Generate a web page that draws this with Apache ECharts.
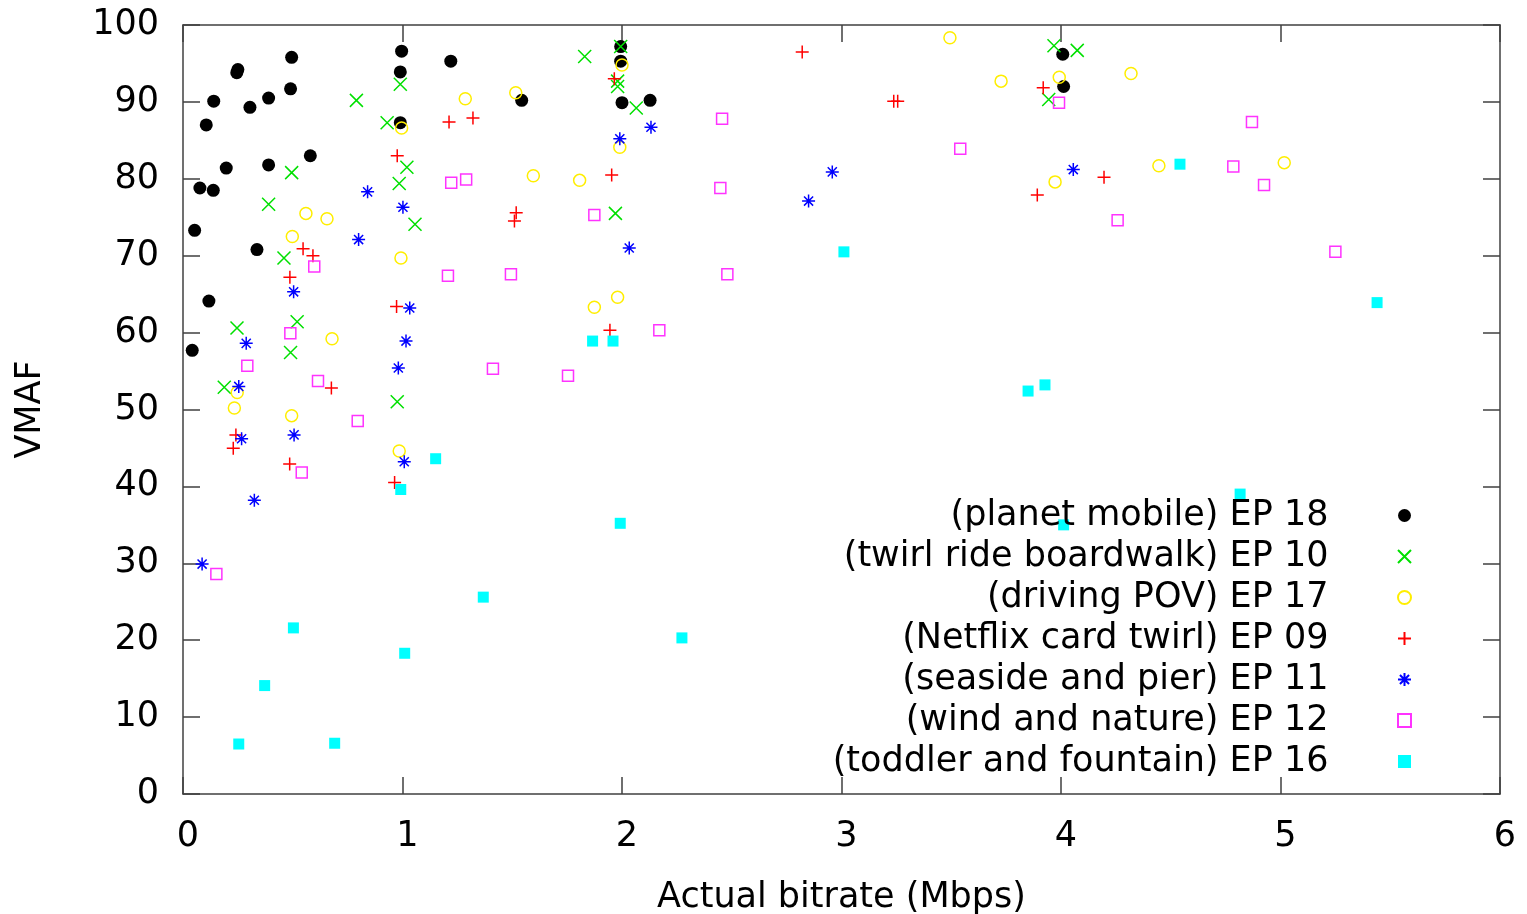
<!DOCTYPE html>
<html>
<head>
<meta charset="utf-8">
<script src="https://cdn.jsdelivr.net/npm/echarts@6/dist/echarts.min.js"></script>
<style>
html,body{margin:0;padding:0;background:#fff;}
#chart{width:1527px;height:914px;}
</style>
</head>
<body>
<div id="chart"></div>
<script>
// ---- data (x = Actual bitrate Mbps, y = VMAF) ----
const seriesNames = [
  "(planet mobile) EP 18",
  "(twirl ride boardwalk) EP 10",
  "(driving POV) EP 17",
  "(Netflix card twirl) EP 09",
  "(seaside and pier) EP 11",
  "(wind and nature) EP 12",
  "(toddler and fountain) EP 16"
];
const planetMobile = [
  [0.042,57.7],[0.053,73.3],[0.077,78.8],[0.106,87.0],[0.118,64.1],[0.138,78.5],[0.14,90.1],
  [0.197,81.4],[0.245,93.8],[0.25,94.2],[0.305,89.3],[0.337,70.8],[0.39,81.8],[0.39,90.5],
  [0.49,91.7],[0.495,95.8],[0.58,83.0],[0.99,87.3],[0.99,93.9],[0.996,96.6],[1.22,95.3],
  [1.543,90.2],[1.994,97.2],[1.994,95.3],[2.0,89.9],[2.128,90.2],[4.008,96.2],[4.012,92.0]
];
const twirlRide = [
  [0.188,52.9],[0.246,60.6],[0.39,76.7],[0.46,69.7],[0.49,57.4],[0.495,80.8],[0.52,61.4],
  [0.79,90.2],[0.93,87.3],[0.976,51.0],[0.985,79.4],[0.99,92.3],[1.02,81.5],[1.057,74.1],
  [1.83,95.9],[1.97,75.5],[1.98,92.7],[1.98,92.0],[1.994,97.2],[2.065,89.2],[3.944,90.3],
  [3.968,97.3],[4.074,96.7]
];
const drivingPOV = [
  [0.234,50.2],[0.247,52.2],[0.495,49.2],[0.498,72.5],[0.56,75.5],[0.656,74.8],[0.679,59.2],
  [0.985,44.6],[0.993,69.7],[0.996,86.6],[1.286,90.4],[1.516,91.2],[1.596,80.4],[1.807,79.8],
  [1.874,63.3],[1.98,64.6],[1.99,84.1],[2.0,94.8],[3.494,98.35],[3.727,92.7],[3.973,79.6],
  [3.992,93.2],[4.319,93.7],[4.446,81.7],[5.017,82.1]
];
const netflixCard = [
  [0.229,44.95],[0.241,46.7],[0.486,42.9],[0.487,67.2],[0.547,70.9],[0.592,70.0],[0.676,52.8],
  [0.964,40.5],[0.973,63.4],[0.976,83.0],[1.212,87.4],[1.321,87.9],[1.51,74.5],[1.518,75.6],
  [1.945,60.3],[1.953,80.5],[1.965,93.0],[2.821,96.5],[3.238,90.1],[3.256,90.1],[3.892,77.9],
  [3.919,91.85],[4.196,80.2]
];
const seasidePier = [
  [0.087,29.9],[0.254,53.0],[0.267,46.2],[0.288,58.6],[0.325,38.2],[0.504,65.3],[0.506,46.7],
  [0.80,72.1],[0.841,78.3],[0.981,55.4],[1.002,76.3],[1.008,43.2],[1.016,58.9],[1.033,63.2],
  [1.99,85.2],[2.033,71.0],[2.132,86.7],[2.85,77.1],[2.958,80.9],[4.056,81.2]
];
const windNature = [
  [0.152,28.6],[0.293,55.7],[0.489,59.9],[0.541,41.8],[0.598,68.6],[0.615,53.7],[0.796,48.5],
  [1.207,67.4],[1.222,79.5],[1.29,79.9],[1.412,55.3],[1.494,67.6],[1.754,54.4],[1.874,75.3],
  [2.17,60.3],[2.448,78.8],[2.456,87.8],[2.48,67.6],[3.541,83.9],[3.991,89.9],[4.258,74.6],
  [4.785,81.6],[4.87,87.4],[4.925,79.2],[5.25,70.5]
];
const toddlerFountain = [
  [0.254,6.5],[0.372,14.1],[0.503,21.6],[0.691,6.6],[0.992,39.6],[1.01,18.3],[1.151,43.6],
  [1.368,25.6],[1.866,58.9],[1.959,58.9],[1.992,35.2],[2.273,20.3],[3.011,70.5],[3.85,52.4],
  [3.927,53.2],[4.012,35.0],[4.542,81.9],[4.816,39.0],[5.44,63.9]
];
const xTicks = [0,1,2,3,4,5,6];
const yTicks = [0,10,20,30,40,50,60,70,80,90,100];

// ---- styling ----
const FONT = "DejaVu Sans";
const FS = 35;
const frame = {color:'#404040', width:1.5};
const PATH_X = 'path://M0,0L10,10M10,0L0,10';
const PATH_PLUS = 'path://M5,0L5,10M0,5L10,5';
const PATH_STAR = 'path://M5,0L5,10M0,5L10,5M1.5,1.5L8.5,8.5M8.5,1.5L1.5,8.5';
const PATH_SQUARE = 'path://M0,0L10,0L10,10L0,10Z';

function strokeStyle(c){ return {color:'rgba(0,0,0,0)', borderColor:c, borderWidth:1.5, opacity:1}; }

const specs = [
  {data:planetMobile, symbol:'circle', size:13, itemStyle:{color:'#000000', opacity:1}},
  {data:twirlRide, symbol:PATH_X, size:13, itemStyle:strokeStyle('#00e000')},
  {data:drivingPOV, symbol:'circle', size:12, itemStyle:strokeStyle('#ffee00')},
  {data:netflixCard, symbol:PATH_PLUS, size:13, itemStyle:strokeStyle('#ff0000')},
  {data:seasidePier, symbol:PATH_STAR, size:13, itemStyle:strokeStyle('#0000ff')},
  {data:windNature, symbol:PATH_SQUARE, size:11, itemStyle:strokeStyle('#ff33ff')},
  {data:toddlerFountain, symbol:PATH_SQUARE, size:11, itemStyle:{color:'#00ffff', opacity:1}}
];

const series = specs.map((s,i)=>({
  name: seriesNames[i],
  type:'scatter',
  data:s.data,
  symbol:s.symbol,
  symbolSize:s.size,
  symbolKeepAspect:true,
  itemStyle:s.itemStyle,
  animation:false,
  emphasis:{disabled:true}
}));

function axisCommon(){
  return {
    axisLine:{show:true, onZero:false, lineStyle:frame},
    axisTick:{show:true, inside:true, length:17, lineStyle:frame},
    splitLine:{show:false}
  };
}

const chart = echarts.init(document.getElementById('chart'), null, {renderer:'canvas'});
chart.setOption({
  backgroundColor:'#ffffff',
  animation:false,
  textStyle:{fontFamily:FONT},
  grid:{left:183, right:27, top:25, bottom:120, containLabel:false, outerBoundsMode:'none'},
  xAxis:[
    Object.assign(axisCommon(), {
      type:'value', position:'bottom', min:xTicks[0], max:xTicks[xTicks.length-1], interval:1,
      axisLabel:{show:true, fontSize:FS, color:'#000', fontFamily:FONT, margin:25, padding:[0,0,0,10]},
      name:'Actual bitrate (Mbps)', nameLocation:'middle', nameGap:86,
      nameTextStyle:{fontSize:FS, color:'#000', fontFamily:FONT}
    }),
    Object.assign(axisCommon(), {
      type:'value', position:'top', min:xTicks[0], max:xTicks[xTicks.length-1], interval:1,
      axisLabel:{show:false}
    })
  ],
  yAxis:[
    Object.assign(axisCommon(), {
      type:'value', position:'left', min:yTicks[0], max:yTicks[yTicks.length-1], interval:10,
      axisLabel:{show:true, fontSize:FS, color:'#000', fontFamily:FONT, margin:24, padding:[6,0,0,0]},
      name:'VMAF', nameLocation:'middle', nameGap:135,
      nameTextStyle:{fontSize:FS, color:'#000', fontFamily:FONT}
    }),
    Object.assign(axisCommon(), {
      type:'value', position:'right', min:yTicks[0], max:yTicks[yTicks.length-1], interval:10,
      axisLabel:{show:false}
    })
  ],
  legend:{
    show:true,
    orient:'vertical',
    align:'right',
    right:110,
    top:493,
    itemWidth:142,
    itemHeight:13,
    itemGap:6,
    selectedMode:false,
    textStyle:{fontSize:FS, color:'#000', fontFamily:FONT, lineHeight:34},
    data:seriesNames
  },
  series:series
});
</script>
</body>
</html>
